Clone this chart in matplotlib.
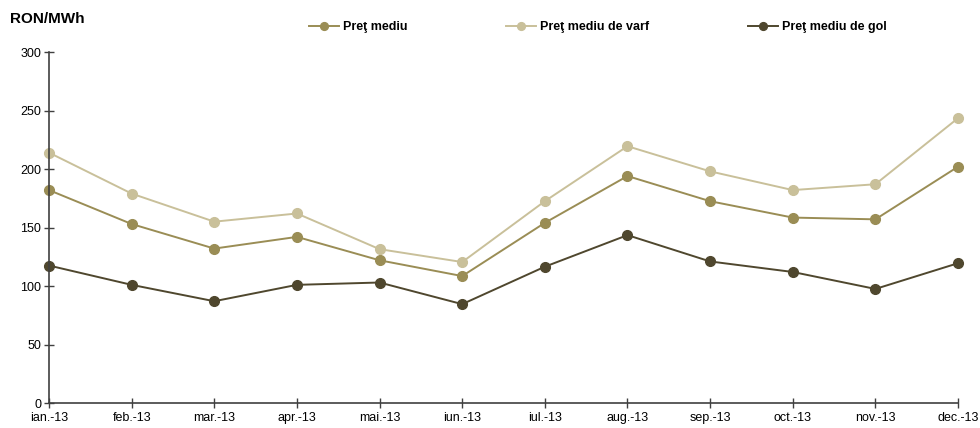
import matplotlib
matplotlib.use('Agg')
import matplotlib.pyplot as plt

plt.rcParams['font.family'] = ['Liberation Sans', 'DejaVu Sans']

# date
luni = ['ian.-13', 'feb.-13', 'mar.-13', 'apr.-13', 'mai.-13', 'iun.-13',
        'iul.-13', 'aug.-13', 'sep.-13', 'oct.-13', 'nov.-13', 'dec.-13']
pret_mediu = [182, 153, 132, 142, 122, 108.5, 154, 194, 172.5, 158.5, 157, 202]
pret_varf = [214, 179, 155, 162, 131.5, 120.5, 172.5, 219.5, 198, 182, 187, 243.5]
pret_gol = [117.5, 101, 87, 101, 103, 84.5, 116.5, 143.5, 121, 112, 97.5, 119.5]

c_mediu = '#9A8D55'
c_varf = '#C9C09A'
c_gol = '#4F472E'

fig = plt.figure(figsize=(9.8, 4.28), dpi=100)
ax = fig.add_axes([0.05, 0.0584, 0.9276, 0.82])

x = range(len(luni))
l1, = ax.plot(x, pret_mediu, color=c_mediu, lw=1.4, marker='o', ms=7, label='Preţ mediu')
l2, = ax.plot(x, pret_varf, color=c_varf, lw=1.4, marker='o', ms=7, label='Preţ mediu de varf')
l3, = ax.plot(x, pret_gol, color=c_gol, lw=1.4, marker='o', ms=7, label='Preţ mediu de gol')

ax.set_xlim(0, len(luni) - 1)
ax.set_ylim(0, 300)
ax.set_yticks(range(0, 301, 50))
ax.set_xticks(list(x))
ax.set_xticklabels(luni)
for s in ['top', 'right']:
    ax.spines[s].set_visible(False)
for s in ['left', 'bottom']:
    ax.spines[s].set_color('#404040')
    ax.spines[s].set_linewidth(1.2)
ax.tick_params(direction='inout', length=7, width=1, color='#404040',
               labelsize=9, pad=3)
ax.tick_params(axis='y', pad=2)
for l in (l1, l2, l3):
    l.set_clip_on(False)

fig.text(0.01, 0.955, 'RON/MWh', fontsize=11, fontweight='bold', va='center')

fig.legend(handles=[l1, l2, l3], loc='center', bbox_to_anchor=(0.61, 0.936),
           ncol=3, frameon=False, prop={'weight': 'bold', 'size': 9},
           handlelength=2.4, handletextpad=0.3, columnspacing=7.9, markerscale=0.8)

fig.savefig('out.png', dpi=100)
